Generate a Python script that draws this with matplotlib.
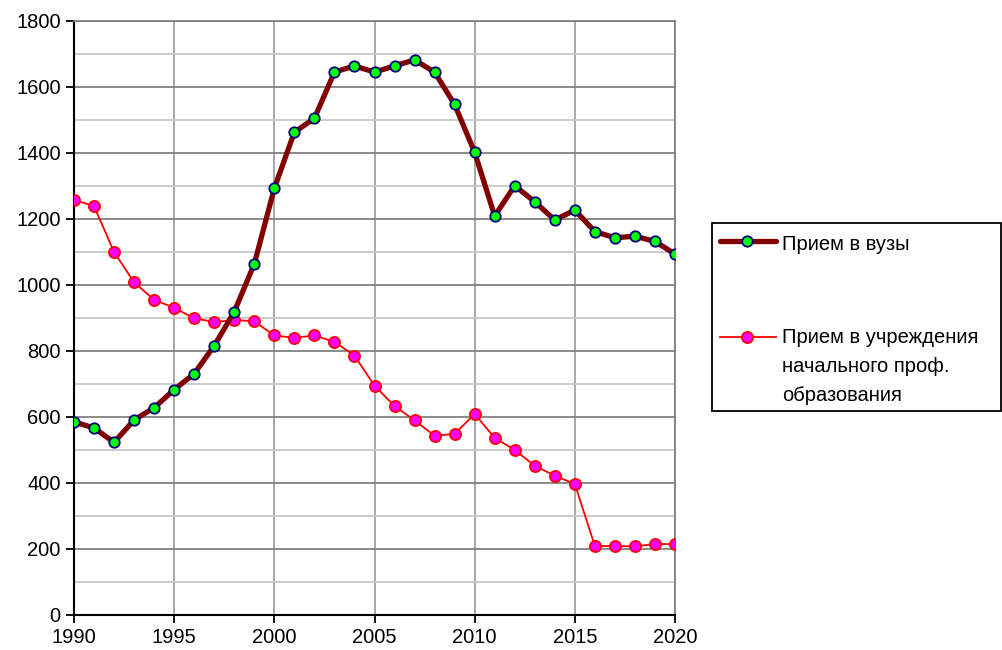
import matplotlib.pyplot as plt
from matplotlib.lines import Line2D
from matplotlib.patches import Rectangle
from matplotlib.ticker import MultipleLocator

years = list(range(1990, 2021))

vuz = [585, 567, 523, 591, 628, 683, 731, 816, 919, 1064,
       1293, 1463, 1505, 1645, 1664, 1645, 1664, 1682, 1645, 1547,
       1402, 1209, 1301, 1252, 1197, 1227, 1162, 1143, 1148, 1132,
       1094]

npo = [1258, 1239, 1100, 1008, 955, 931, 899, 888, 894, 890,
       847, 840, 847, 828, 786, 695, 633, 590, 543, 549,
       609, 537, 500, 452, 422, 397, 209, 209, 208, 215,
       215]

label_vuz = 'Прием в вузы'
label_npo = 'Прием в учреждения\nначального проф.\nобразования'

plt.rcParams['font.family'] = ['Liberation Sans', 'DejaVu Sans']

W, H = 1003, 650
fig = plt.figure(figsize=(W / 100, H / 100), dpi=100)
ax = fig.add_axes([74 / W, 35 / H, 601 / W, 594 / H])

vuz_style = dict(color='#800000', linewidth=3.8, marker='o', markersize=7.5,
                 markerfacecolor='#00ff00', markeredgecolor='#000080',
                 markeredgewidth=1.3, solid_capstyle='round')
npo_style = dict(color='#ff0000', linewidth=1.3, marker='o', markersize=8,
                 markerfacecolor='#ff00ff', markeredgecolor='#ff0000',
                 markeredgewidth=1.3)

ax.plot(years, vuz, zorder=4, **vuz_style)
ax.plot(years, npo, zorder=3, **npo_style)

ax.set_xlim(1990, 2020)
ax.set_ylim(0, 1800)
ax.xaxis.set_major_locator(MultipleLocator(5))
ax.yaxis.set_major_locator(MultipleLocator(200))
ax.yaxis.set_minor_locator(MultipleLocator(100))

ax.grid(which='major', axis='y', color='#808080', linewidth=1.3)
ax.grid(which='minor', axis='y', color='#c8c8c8', linewidth=1.3)
ax.grid(which='major', axis='x', color='#a0a0a0', linewidth=1.3)
ax.set_axisbelow(True)

for side in ['top', 'right']:
    ax.spines[side].set_color('#808080')
    ax.spines[side].set_linewidth(1.3)
for side in ['left', 'bottom']:
    ax.spines[side].set_color('black')
    ax.spines[side].set_linewidth(1.5)

ax.tick_params(axis='both', which='major', labelsize=14.5, length=6,
               width=1.3, color='black', direction='out')
ax.tick_params(axis='y', which='minor', length=0)

# legend drawn by hand (Excel-style box, handle at first text line)
def fx(px):
    return px / W

def fy(py):
    return 1 - py / H

fig.add_artist(Rectangle((fx(712), fy(411)), fx(1001) - fx(712),
                         fy(223) - fy(411), transform=fig.transFigure,
                         facecolor='white', edgecolor='black', linewidth=1.3))

for y, style in [(241, vuz_style), (337, npo_style)]:
    fig.add_artist(Line2D([fx(720), fx(776)], [fy(y), fy(y)],
                          transform=fig.transFigure, markevery=[], **style))
    fig.add_artist(Line2D([fx(747)], [fy(y)], transform=fig.transFigure,
                          **style))

fig.text(fx(782), fy(244), label_vuz, fontsize=14.5, va='center', ha='left')
fig.text(fx(782), fy(328), label_npo, fontsize=14.5, va='top', ha='left',
         linespacing=1.68)

fig.savefig('out.png', dpi=100, facecolor='white')
